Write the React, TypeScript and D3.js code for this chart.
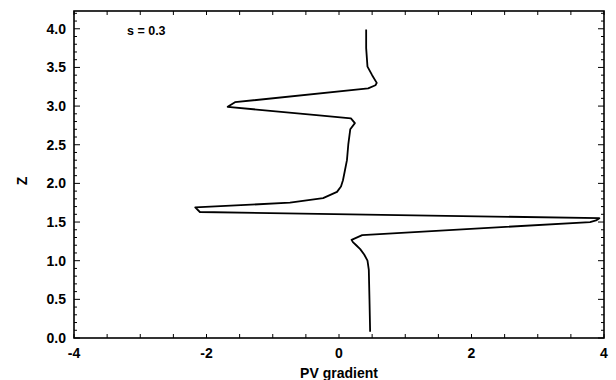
import React from "react";
import * as d3 from "d3";

const zValues = [0.08, 0.5, 0.88, 1.0, 1.08, 1.15, 1.2, 1.24, 1.27, 1.33, 1.5, 1.52, 1.55, 1.63, 1.69, 1.75, 1.81, 1.89, 1.96, 2.04, 2.17, 2.3, 2.5, 2.7, 2.78, 2.84, 2.88, 2.99, 3.05, 3.23, 3.27, 3.3, 3.4, 3.51, 3.75, 3.99];
const pvValues = [0.47, 0.46, 0.45, 0.43, 0.38, 0.32, 0.26, 0.21, 0.19, 0.35, 3.79, 3.88, 3.93, -2.1, -2.17, -0.74, -0.24, -0.03, 0.03, 0.06, 0.09, 0.12, 0.14, 0.17, 0.24, 0.18, -0.3, -1.68, -1.57, 0.44, 0.55, 0.57, 0.5, 0.43, 0.41, 0.41];
const xTickLabels = [-4, -2, 0, 2, 4];
const yTickLabels = [0, 0.5, 1, 1.5, 2, 2.5, 3, 3.5, 4];
const xLabel = "PV gradient";
const yLabel = "Z";
const annotation = "s = 0.3";

export default function App() {
  const W = 616, H = 380;
  const left = 74, right = 604, top = 11, bottom = 338;
  const x = d3.scaleLinear().domain([-4, 4]).range([left, right]);
  const y = d3.scaleLinear().domain([0, 4.23]).range([bottom, top]);
  const pts: [number, number][] = zValues.map((z, i) => [pvValues[i], z]);
  const line = d3.line<[number, number]>().x(d => x(d[0])).y(d => y(d[1]));
  const xMinor = d3.range(-4, 4.001, 0.5);
  const yMinor = d3.range(0, 4.201, 0.1);
  const font = "'Liberation Sans', Arial, Helvetica, sans-serif";
  return (
    <svg width={W} height={H} style={{ position: "absolute", left: 0, top: 0, background: "#fff" }}>
      <rect x={0} y={0} width={W} height={H} fill="#fff" />
      {xMinor.map((v, i) => (
        <g key={"xt" + i}>
          <line x1={x(v)} x2={x(v)} y1={bottom} y2={bottom - 4} stroke="#000" strokeWidth={1} />
          <line x1={x(v)} x2={x(v)} y1={top} y2={top + 4} stroke="#000" strokeWidth={1} />
        </g>
      ))}
      {yMinor.map((v, i) => {
        const major = Math.abs(v * 2 - Math.round(v * 2)) < 1e-6;
        const len = major ? 6 : 3;
        return (
          <g key={"yt" + i}>
            <line x1={left} x2={left + len} y1={y(v)} y2={y(v)} stroke="#000" strokeWidth={1} />
            <line x1={right} x2={right - len} y1={y(v)} y2={y(v)} stroke="#000" strokeWidth={1} />
          </g>
        );
      })}
      <rect x={left} y={top} width={right - left} height={bottom - top} fill="none" stroke="#000" strokeWidth={1.6} />
      {xTickLabels.map((v, i) => (
        <text key={"xl" + i} x={x(v)} y={bottom + 20} textAnchor="middle" fontFamily={font} fontWeight="bold" fontSize={14} fill="#000">
          {v}
        </text>
      ))}
      {yTickLabels.map((v, i) => (
        <text key={"yl" + i} x={left - 8} y={y(v) + 5} textAnchor="end" fontFamily={font} fontWeight="bold" fontSize={14} fill="#000">
          {v.toFixed(1)}
        </text>
      ))}
      <text x={(left + right) / 2} y={378} textAnchor="middle" fontFamily={font} fontWeight="bold" fontSize={14} fill="#000">
        {xLabel}
      </text>
      <text transform={`translate(27, ${y(2.03)}) rotate(-90)`} textAnchor="middle" fontFamily={font} fontWeight="bold" fontSize={14} fill="#000">
        {yLabel}
      </text>
      <text x={127} y={35} fontFamily={font} fontWeight="bold" fontSize={12.5} fill="#000">
        {annotation}
      </text>
      <path d={line(pts) || ""} fill="none" stroke="#000" strokeWidth={1.8} strokeLinejoin="round" />
    </svg>
  );
}
